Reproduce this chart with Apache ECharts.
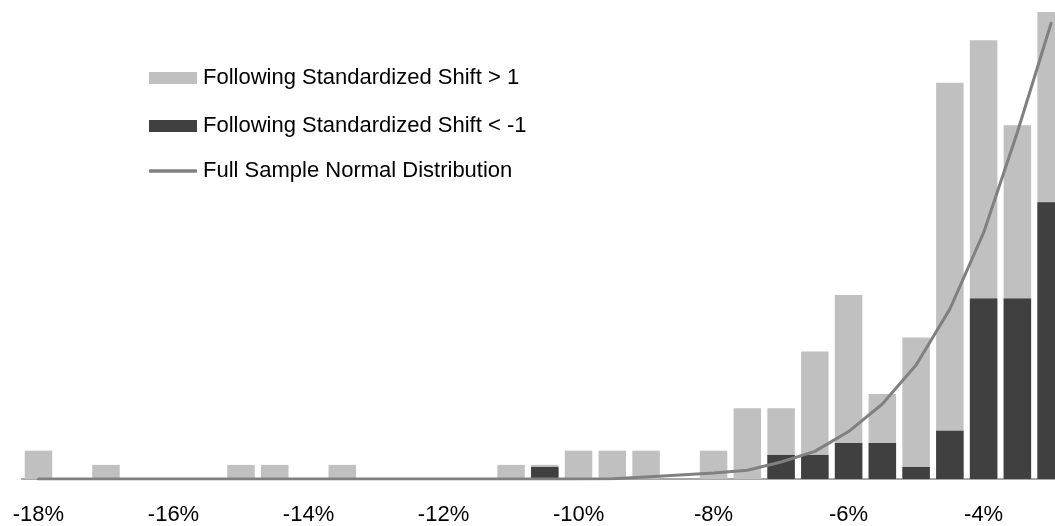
<!DOCTYPE html>
<html>
<head>
<meta charset="utf-8">
<script src="https://cdn.jsdelivr.net/npm/echarts@6/dist/echarts.min.js"></script>
<style>
  html, body { margin: 0; padding: 0; background: #ffffff; overflow: hidden; }
  #wrap { width: 1055px; height: 526px; overflow: hidden; }
  /* the plot runs past the right edge; the last bar is clipped */
  #chart { width: 1068px; height: 526px; }
</style>
</head>
<body>
<div id="wrap"><div id="chart"></div></div>
<script>
// Return buckets, in percent (0.5% steps)
const buckets = [-18, -17.5, -17, -16.5, -16, -15.5, -15, -14.5, -14, -13.5, -13, -12.5,
  -12, -11.5, -11, -10.5, -10, -9.5, -9, -8.5, -8, -7.5, -7, -6.5, -6, -5.5, -5, -4.5,
  -4, -3.5, -3];

// Frequency of observations followed by a standardized shift > 1
const shiftAbove = [2, 0, 1, 0, 0, 0, 1, 1, 0, 1, 0, 0,
  0, 0, 1, 1, 2, 2, 2, 0, 2, 5, 5, 9, 13, 6, 10, 28,
  31, 25, 33];

// Frequency of observations followed by a standardized shift < -1
const shiftBelow = [null, null, null, null, null, null, null, null, null, null, null, null,
  null, null, null, 0.85, null, null, null, null, null, null, 1.7, 1.7, 2.55, 2.55, 0.85, 3.4,
  12.75, 12.75, 19.55];

// Normal density fitted to the full sample, on the same scale
const normalFit = [0, 0, 0, 0, 0, 0, 0, 0, 0, 0, 0, 0,
  0, 0, 0, 0, 0, 0.02, 0.14, 0.28, 0.42, 0.62, 1.2, 1.95, 3.35, 5.3, 8.05, 12.0,
  17.4, 24.5, 32.2];

// Bucket labels shown under the axis
const tickLabels = ['-18%', '-16%', '-14%', '-12%', '-10%', '-8%', '-6%', '-4%'];

const names = {
  above: 'Following Standardized Shift > 1',
  below: 'Following Standardized Shift < -1',
  normal: 'Full Sample Normal Distribution'
};

const FONT = 'Arial, "Liberation Sans", sans-serif';
const chart = echarts.init(document.getElementById('chart'), null, { renderer: 'canvas' });

function legendAt(name, top, h, icon) {
  return {
    data: [{ name: name, icon: icon }],
    left: 149,
    top: top,
    orient: 'vertical',
    padding: 0,
    itemWidth: 48,
    itemHeight: h,
    selectedMode: false,
    textStyle: { fontFamily: FONT, fontSize: 22, color: '#000000', padding: [0, 0, 0, 1] }
  };
}

chart.setOption({
  animation: false,
  backgroundColor: '#ffffff',
  grid: { left: 21.6, right: 0, top: 0, bottom: 46.5, containLabel: false },
  legend: [
    legendAt(names.above, 67, 12, 'rect'),
    legendAt(names.below, 115, 12, 'rect'),
    legendAt(names.normal, 160, 3.5, 'roundRect')
  ],
  xAxis: {
    type: 'category',
    data: buckets,
    boundaryGap: true,
    axisLine: { show: true, lineStyle: { color: '#8c8c8c', width: 1.5 } },
    axisTick: { show: false },
    splitLine: { show: false },
    axisLabel: {
      interval: 3,
      margin: 25,
      fontFamily: FONT,
      fontSize: 22,
      color: '#000000',
      formatter: function (v) {
        const s = v + '%';
        return tickLabels.indexOf(s) >= 0 ? s : '';
      }
    }
  },
  yAxis: {
    type: 'value',
    min: 0,
    max: 33.84,
    show: false,
    splitLine: { show: false }
  },
  series: [
    {
      name: names.above,
      type: 'bar',
      data: shiftAbove,
      barWidth: 27.5,
      barGap: '-100%',
      itemStyle: { color: '#c0c0c0' },
      z: 2
    },
    {
      name: names.below,
      type: 'bar',
      data: shiftBelow,
      barWidth: 27.5,
      barGap: '-100%',
      itemStyle: { color: '#404040' },
      z: 3
    },
    {
      name: names.normal,
      type: 'line',
      data: normalFit,
      symbol: 'none',
      smooth: false,
      lineStyle: { color: '#808080', width: 3, cap: 'round', join: 'round' },
      itemStyle: { color: '#808080' },
      z: 4
    }
  ]
});
</script>
</body>
</html>
